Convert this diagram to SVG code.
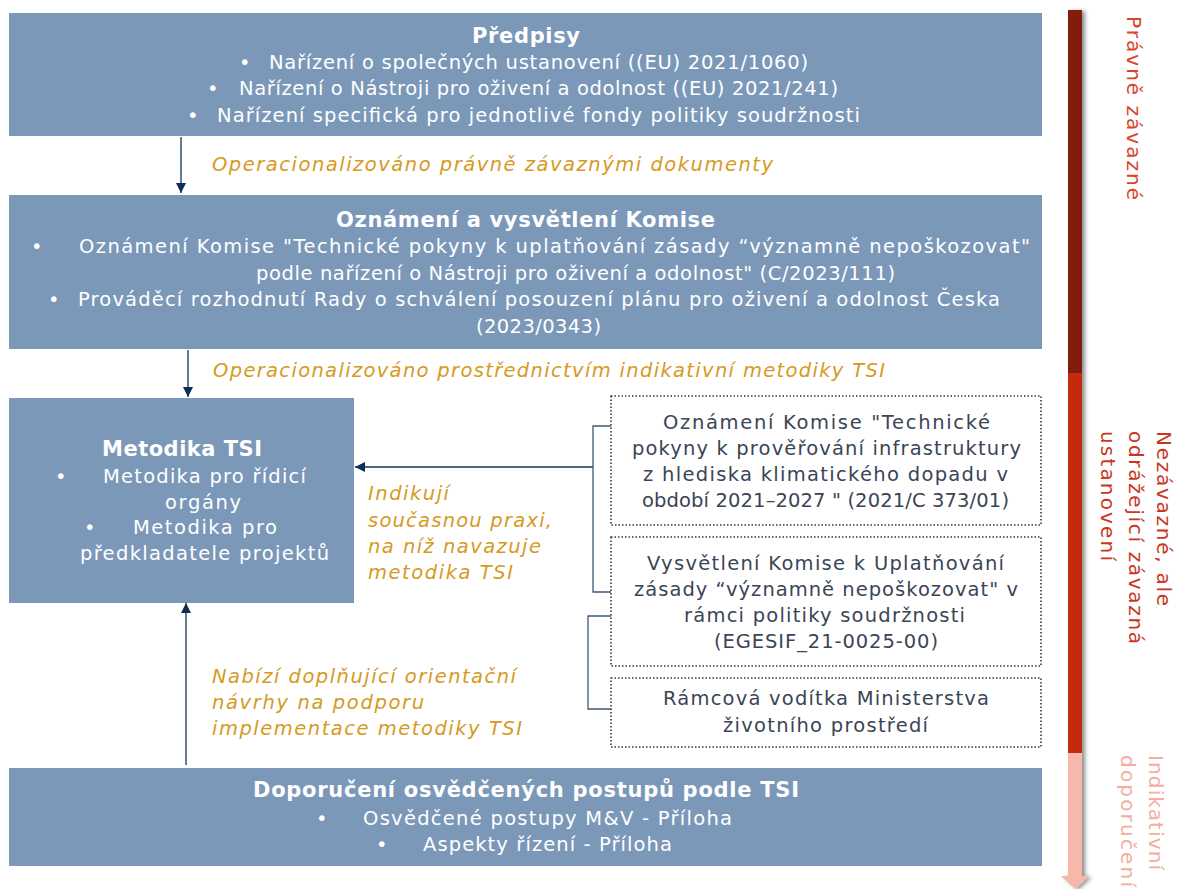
<svg xmlns="http://www.w3.org/2000/svg" width="1181" height="889" viewBox="0 0 1181 889">
<style>
.box{fill:#7B98B9}
.t{font-family:"DejaVu Sans","Liberation Sans",sans-serif;fill:#ffffff;font-size:19.5px}
.h{font-weight:bold;font-size:21px}
.lab{font-family:"DejaVu Sans","Liberation Sans",sans-serif;fill:#D69A1E;font-size:19.5px;font-style:italic}
.dbox{fill:#ffffff;stroke:#2E3B4E;stroke-width:1.6;stroke-dasharray:1.5 2}
.dt{font-family:"DejaVu Sans","Liberation Sans",sans-serif;fill:#3A4556;font-size:19.5px}
.con{fill:none;stroke:#13325A;stroke-width:1.3}
.br{fill:none;stroke:#3F5775;stroke-width:1.3}
.side{font-family:"DejaVu Sans","Liberation Sans",sans-serif;font-size:20px}
</style>
<defs>
<marker id="ah" viewBox="0 0 10 10" refX="10" refY="5" markerWidth="10" markerHeight="10" markerUnits="userSpaceOnUse" orient="auto">
<path d="M0,0 L10,5 L0,10 z" fill="#0F2D52"/>
</marker>
<filter id="sh" x="-50%" y="-5%" width="200%" height="110%">
<feGaussianBlur in="SourceAlpha" stdDeviation="2"/>
<feOffset dx="3" dy="1"/>
<feComponentTransfer><feFuncA type="linear" slope="0.45"/></feComponentTransfer>
<feMerge><feMergeNode/><feMergeNode in="SourceGraphic"/></feMerge>
</filter>
</defs>
<rect width="1181" height="889" fill="#ffffff"/>

<g id="side-bar" filter="url(#sh)">
<rect x="1068" y="10" width="14" height="363" fill="#821B0C"/>
<rect x="1068" y="373" width="14" height="380" fill="#C42910"/>
<rect x="1068" y="753" width="14" height="127" fill="#F5B8AA"/>
<path d="M1061,876 L1089,876 L1075,889 z" fill="#F5B8AA"/>
</g>
<g id="side-labels">
<text class="side" fill="#D9452B" transform="translate(1127,16) rotate(90)" textLength="184">Právně závazné</text>
<text class="side" fill="#C9381E" transform="translate(1157,431) rotate(90)" textLength="175">Nezávazné, ale</text>
<text class="side" fill="#C9381E" transform="translate(1129,431) rotate(90)" textLength="213">odrážející závazná</text>
<text class="side" fill="#C9381E" transform="translate(1101,431) rotate(90)" textLength="130">ustanovení</text>
<text class="side" fill="#F3AE9F" transform="translate(1149,755) rotate(90)" textLength="115">Indikativní</text>
<text class="side" fill="#F3AE9F" transform="translate(1121,755) rotate(90)" textLength="132">doporučení</text>
</g>

<g id="predpisy">
<rect class="box" x="9" y="13" width="1033" height="123"/>
<text class="t h" x="472" y="43" textLength="108">Předpisy</text>
<text class="t" x="239" y="69">•</text>
<text class="t" x="269" y="69" textLength="539">Nařízení o společných ustanovení ((EU) 2021/1060)</text>
<text class="t" x="207" y="95">•</text>
<text class="t" x="239" y="95" textLength="599">Nařízení o Nástroji pro oživení a odolnost ((EU) 2021/241)</text>
<text class="t" x="187" y="122">•</text>
<text class="t" x="217" y="122" textLength="643">Nařízení specifická pro jednotlivé fondy politiky soudržnosti</text>
</g>

<g id="oznameni">
<rect class="box" x="9" y="195" width="1033" height="154"/>
<text class="t h" x="336" y="227" textLength="379">Oznámení a vysvětlení Komise</text>
<text class="t" x="31" y="253">•</text>
<text class="t" x="79" y="253" textLength="951">Oznámení Komise "Technické pokyny k uplatňování zásady “významně nepoškozovat"</text>
<text class="t" x="256" y="280" textLength="639">podle nařízení o Nástroji pro oživení a odolnost" (C/2023/111)</text>
<text class="t" x="48" y="306">•</text>
<text class="t" x="78" y="306" textLength="922">Prováděcí rozhodnutí Rady o schválení posouzení plánu pro oživení a odolnost Česka</text>
<text class="t" x="476" y="333" textLength="125">(2023/0343)</text>
</g>

<g id="metodika">
<rect class="box" x="9" y="398" width="345" height="205"/>
<text class="t h" x="102" y="456" textLength="160">Metodika TSI</text>
<text class="t" x="55" y="483">•</text>
<text class="t" x="103" y="483" textLength="203">Metodika pro řídicí</text>
<text class="t" x="165" y="509" textLength="76">orgány</text>
<text class="t" x="84" y="534">•</text>
<text class="t" x="133" y="534" textLength="144">Metodika pro</text>
<text class="t" x="80" y="560" textLength="249">předkladatele projektů</text>
</g>

<g id="doporuceni">
<rect class="box" x="9" y="768" width="1033" height="98"/>
<text class="t h" x="253" y="797" textLength="546">Doporučení osvědčených postupů podle TSI</text>
<text class="t" x="316" y="825">•</text>
<text class="t" x="363" y="825" textLength="369">Osvědčené postupy M&amp;V - Příloha</text>
<text class="t" x="376" y="851">•</text>
<text class="t" x="423" y="851" textLength="249">Aspekty řízení - Příloha</text>
</g>

<g id="doc1">
<rect class="dbox" x="611" y="396" width="430" height="129"/>
<text class="dt" x="663" y="429" textLength="327">Oznámení Komise "Technické</text>
<text class="dt" x="632" y="455" textLength="389">pokyny k prověřování infrastruktury</text>
<text class="dt" x="643" y="481" textLength="365">z hlediska klimatického dopadu v</text>
<text class="dt" x="642" y="507" textLength="367">období 2021–2027 " (2021/C 373/01)</text>
</g>
<g id="doc2">
<rect class="dbox" x="611" y="537" width="430" height="129"/>
<text class="dt" x="647" y="570" textLength="357">Vysvětlení Komise k Uplatňování</text>
<text class="dt" x="634" y="596" textLength="384">zásady “významně nepoškozovat" v</text>
<text class="dt" x="684" y="622" textLength="281">rámci politiky soudržnosti</text>
<text class="dt" x="714" y="648" textLength="224">(EGESIF_21-0025-00)</text>
</g>
<g id="doc3">
<rect class="dbox" x="611" y="678" width="430" height="69"/>
<text class="dt" x="663" y="705" textLength="326">Rámcová vodítka Ministerstva</text>
<text class="dt" x="723" y="732" textLength="205">životního prostředí</text>
</g>

<g id="connectors">
<line class="con" x1="181" y1="137" x2="181" y2="193" marker-end="url(#ah)"/>
<line class="con" x1="188" y1="350" x2="188" y2="397" marker-end="url(#ah)"/>
<line class="con" x1="186" y1="765" x2="186" y2="603" marker-end="url(#ah)"/>
<line class="con" x1="593" y1="467" x2="355" y2="467" marker-end="url(#ah)"/>
<path class="br" d="M611,426 L593,426 L593,592 L611,592"/>
<path class="br" d="M611,616 L588,616 L588,709 L611,709"/>
</g>

<g id="labels">
<text class="lab" x="212" y="171" textLength="561">Operacionalizováno právně závaznými dokumenty</text>
<text class="lab" x="213" y="377" textLength="672">Operacionalizováno prostřednictvím indikativní metodiky TSI</text>
<text class="lab" x="368" y="500" textLength="81">Indikují</text>
<text class="lab" x="368" y="527" textLength="184">současnou praxi,</text>
<text class="lab" x="368" y="553" textLength="173">na níž navazuje</text>
<text class="lab" x="368" y="579" textLength="145">metodika TSI</text>
<text class="lab" x="212" y="683" textLength="304">Nabízí doplňující orientační</text>
<text class="lab" x="212" y="709" textLength="212">návrhy na podporu</text>
<text class="lab" x="212" y="735" textLength="310">implementace metodiky TSI</text>
</g>
</svg>
